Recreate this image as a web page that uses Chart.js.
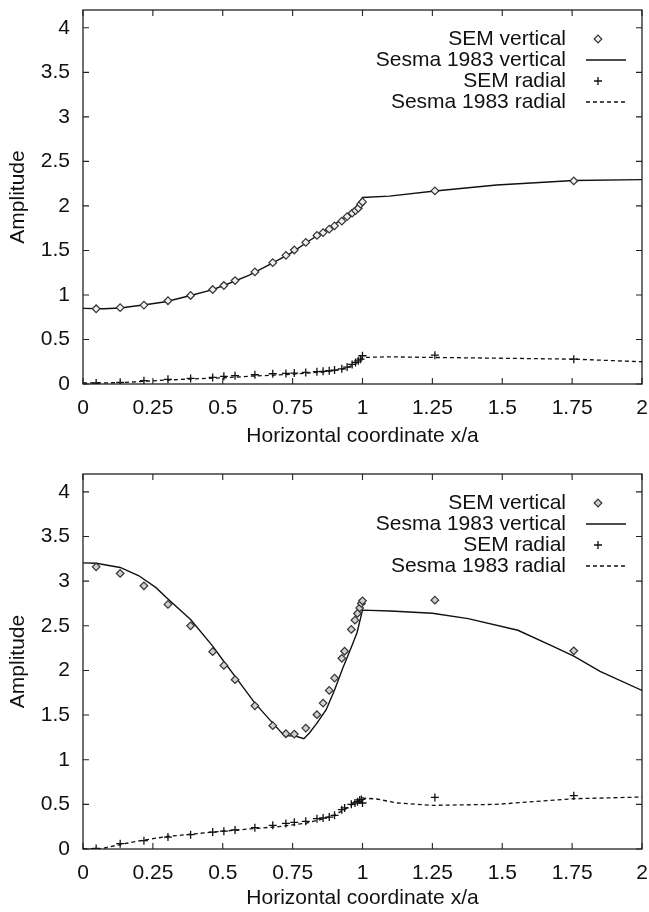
<!DOCTYPE html>
<html>
<head>
<meta charset="utf-8">
<script src="https://cdn.jsdelivr.net/npm/chart.js@4/dist/chart.umd.min.js"></script>
<style>
  html, body { margin: 0; padding: 0; background: #fff; }
  .panel { position: absolute; left: 0; width: 649px; height: 456px; }
  #p1 { top: 0; }
  #p2 { top: 456px; }
</style>
</head>
<body>
<div class="panel" id="p1"><canvas id="c1" width="649" height="456"></canvas></div>
<div class="panel" id="p2"><canvas id="c2" width="649" height="456"></canvas></div>
<script>
// ---------- tick labels ----------
const xTicks = [0, 0.25, 0.5, 0.75, 1, 1.25, 1.5, 1.75, 2];
const yTicks = [0, 0.5, 1, 1.5, 2, 2.5, 3, 3.5, 4];
const xTitle = 'Horizontal coordinate x/a';
const yTitle = 'Amplitude';
const seriesNames = ['SEM vertical', 'Sesma 1983 vertical', 'SEM radial', 'Sesma 1983 radial'];

// ---------- top panel ----------
const topSemX = [0.047,0.133,0.218,0.304,0.385,0.464,0.504,0.544,0.615,0.679,0.726,0.756,0.797,0.837,0.859,0.881,0.9,0.926,0.945,0.963,0.975,0.985,0.993,1.0,1.259,1.756];
const topSemVert = [0.845,0.857,0.886,0.935,0.994,1.061,1.106,1.162,1.259,1.363,1.445,1.505,1.59,1.669,1.70,1.739,1.776,1.829,1.88,1.918,1.948,1.974,2.02,2.045,2.168,2.28];
const topSemRad = [0.011,0.019,0.037,0.052,0.063,0.074,0.086,0.093,0.104,0.115,0.119,0.123,0.13,0.138,0.142,0.149,0.156,0.17,0.19,0.22,0.242,0.26,0.279,0.317,0.324,0.279];
const topVertLineX = [0,0.074,0.133,0.222,0.296,0.385,0.464,0.504,0.593,0.667,0.741,0.815,0.889,0.963,1.0,1.096,1.259,1.48,1.756,2.0];
const topVertLineY = [0.849,0.845,0.853,0.89,0.924,0.994,1.06,1.106,1.22,1.34,1.464,1.62,1.77,1.925,2.095,2.11,2.168,2.235,2.285,2.295];
const topRadLineX = [0,0.133,0.218,0.304,0.385,0.504,0.615,0.741,0.859,0.93,0.97,0.985,1.0,1.096,1.259,1.48,1.756,2.0];
const topRadLineY = [0.011,0.015,0.03,0.045,0.056,0.07,0.09,0.108,0.134,0.168,0.216,0.25,0.298,0.305,0.298,0.29,0.279,0.25];

// ---------- bottom panel ----------
const botSemX = [0.047,0.133,0.218,0.304,0.385,0.464,0.504,0.544,0.615,0.679,0.726,0.756,0.797,0.837,0.859,0.881,0.9,0.926,0.936,0.96,0.973,0.982,0.99,0.996,1.0,1.259,1.756];
const botSemVert = [3.16,3.086,2.948,2.739,2.5,2.21,2.056,1.896,1.604,1.381,1.291,1.287,1.354,1.504,1.634,1.776,1.914,2.136,2.215,2.459,2.563,2.638,2.70,2.75,2.78,2.787,2.22];
const botSemRad = [0.007,0.06,0.093,0.134,0.16,0.19,0.2,0.213,0.239,0.265,0.287,0.299,0.31,0.34,0.347,0.358,0.377,0.44,0.46,0.5,0.515,0.53,0.55,0.555,0.515,0.578,0.597];
const botVertLineX = [0,0.047,0.133,0.2,0.26,0.304,0.385,0.464,0.504,0.544,0.615,0.679,0.72,0.76,0.79,0.81,0.837,0.87,0.9,0.93,0.96,0.98,1.0,1.1,1.25,1.378,1.556,1.674,1.756,1.85,2.0];
const botVertLineY = [3.205,3.20,3.153,3.06,2.93,2.80,2.57,2.272,2.10,1.933,1.634,1.41,1.27,1.265,1.235,1.30,1.41,1.56,1.78,2.03,2.26,2.42,2.675,2.665,2.64,2.58,2.45,2.28,2.16,1.99,1.776];
const botRadLineX = [0,0.06,0.133,0.218,0.3,0.385,0.464,0.544,0.615,0.7,0.75,0.8,0.85,0.9,0.95,1.0,1.05,1.126,1.25,1.48,1.756,2.0];
const botRadLineY = [0,0,0.05,0.1,0.14,0.165,0.19,0.21,0.23,0.25,0.27,0.29,0.33,0.38,0.47,0.571,0.56,0.515,0.489,0.5,0.563,0.582];

const FONT = "'Liberation Sans', Arial, Helvetica, sans-serif";
const FSIZE = 21;
const INK = '#111';
Chart.defaults.font.family = FONT;
Chart.defaults.color = INK;

function pts(xs, ys) { return xs.map((x, i) => ({ x: x, y: ys[i] })); }

function buildDatasets(semX, semV, semR, vLX, vLY, rLX, rLY, fill) {
  return [
    { label: seriesNames[0], data: pts(semX, semV), showLine: false, pointStyle: 'rectRot',
      pointRadius: 3.8, borderColor: '#333', backgroundColor: fill, borderWidth: 1.2, order: 1 },
    { label: seriesNames[1], data: pts(vLX, vLY), showLine: true, pointRadius: 0,
      borderColor: INK, borderWidth: 1.4, tension: 0, order: 2 },
    { label: seriesNames[2], data: pts(semX, semR), showLine: false, pointStyle: 'cross',
      pointRadius: 4, borderColor: INK, borderWidth: 1.3, order: 1 },
    { label: seriesNames[3], data: pts(rLX, rLY), showLine: true, pointRadius: 0,
      borderColor: INK, borderWidth: 1.3, borderDash: [4, 3], tension: 0, order: 2 }
  ];
}

// frame + inward ticks (gnuplot style)
const framePlugin = {
  id: 'frame',
  beforeDatasetsDraw(chart) {
    const { ctx, chartArea: a, scales } = chart;
    ctx.save();
    ctx.strokeStyle = '#222';
    ctx.lineWidth = 1.3;
    ctx.strokeRect(a.left, a.top, a.right - a.left, a.bottom - a.top);
    ctx.lineWidth = 1.1;
    ctx.beginPath();
    const tl = 6;
    xTicks.forEach(v => {
      const px = scales.x.getPixelForValue(v);
      ctx.moveTo(px, a.bottom); ctx.lineTo(px, a.bottom - tl);
      ctx.moveTo(px, a.top); ctx.lineTo(px, a.top + tl);
    });
    yTicks.forEach(v => {
      const py = scales.y.getPixelForValue(v);
      ctx.moveTo(a.left, py); ctx.lineTo(a.left + tl, py);
      ctx.moveTo(a.right, py); ctx.lineTo(a.right - tl, py);
    });
    ctx.stroke();
    ctx.restore();
  }
};

// gnuplot style key: right-aligned text with sample on the right
const keyPlugin = {
  id: 'gkey',
  afterDatasetsDraw(chart) {
    const { ctx, chartArea: a } = chart;
    const textRight = 566, symX = 598, l0 = 586, l1 = 626;
    ctx.save();
    ctx.font = FSIZE + 'px ' + FONT;
    ctx.textAlign = 'right';
    ctx.textBaseline = 'middle';
    chart.data.datasets.forEach((ds, i) => {
      const y = a.top + 29 + 21 * i;
      ctx.fillStyle = INK;
      ctx.fillText(ds.label, textRight, y);
      ctx.strokeStyle = ds.borderColor;
      ctx.lineWidth = ds.borderWidth;
      const r = ds.pointRadius;
      ctx.beginPath();
      if (ds.showLine) {
        ctx.setLineDash(ds.borderDash || []);
        ctx.moveTo(l0, y); ctx.lineTo(l1, y); ctx.stroke();
        ctx.setLineDash([]);
      } else if (ds.pointStyle === 'rectRot') {
        ctx.fillStyle = ds.backgroundColor;
        ctx.moveTo(symX, y - r); ctx.lineTo(symX + r, y); ctx.lineTo(symX, y + r); ctx.lineTo(symX - r, y); ctx.closePath();
        ctx.fill(); ctx.stroke();
      } else {
        ctx.moveTo(symX - r, y); ctx.lineTo(symX + r, y); ctx.moveTo(symX, y - r); ctx.lineTo(symX, y + r);
        ctx.stroke();
      }
    });
    ctx.restore();
  }
};

function makeChart(id, datasets, padTop, xAxisH, titlePadBottom) {
  return new Chart(document.getElementById(id), {
    type: 'scatter',
    data: { datasets: datasets },
    options: {
      responsive: false,
      animation: false,
      layout: { padding: { top: padTop, right: 7, left: 0, bottom: 0 } },
      plugins: { legend: { display: false }, tooltip: { enabled: false } },
      scales: {
        x: {
          type: 'linear', min: 0, max: 2,
          afterBuildTicks: s => { s.ticks = xTicks.map(v => ({ value: v })); },
          afterFit: s => { s.height = xAxisH; s.paddingLeft = 0; s.paddingRight = 0; },
          grid: { display: false, drawTicks: false },
          border: { display: false },
          ticks: { font: { size: FSIZE }, color: INK, padding: 12, maxRotation: 0, autoSkip: false,
                   callback: v => String(v) },
          title: { display: true, text: xTitle, font: { size: FSIZE }, color: INK, padding: { top: 0, bottom: titlePadBottom } }
        },
        y: {
          type: 'linear', min: 0, max: 4.2,
          afterBuildTicks: s => { s.ticks = yTicks.map(v => ({ value: v })); },
          afterFit: s => { s.width = 83; s.paddingTop = 0; s.paddingBottom = 0; },
          grid: { display: false, drawTicks: false },
          border: { display: false },
          ticks: { font: { size: FSIZE }, color: INK, padding: 13, autoSkip: false,
                   callback: v => String(v) },
          title: { display: true, text: yTitle, font: { size: FSIZE }, color: INK, padding: { top: 6, bottom: 0 } }
        }
      }
    },
    plugins: [framePlugin, keyPlugin]
  });
}

makeChart('c1', buildDatasets(topSemX, topSemVert, topSemRad, topVertLineX, topVertLineY, topRadLineX, topRadLineY, '#f0f0f0'), 10, 72, 7);
makeChart('c2', buildDatasets(botSemX, botSemVert, botSemRad, botVertLineX, botVertLineY, botRadLineX, botRadLineY, '#d0d0d0'), 18, 63, 1);
</script>
</body>
</html>
